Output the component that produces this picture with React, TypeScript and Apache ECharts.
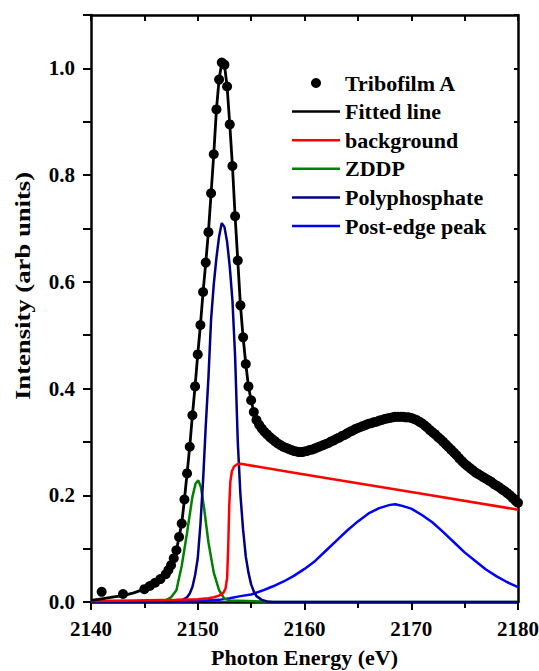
import React, { useEffect, useRef } from "react";
import * as echarts from "echarts";

const FONT = '"Liberation Serif", "Times New Roman", serif';

const seriesNames = ["Tribofilm A", "Fitted line", "background", "ZDDP", "Polyphosphate", "Post-edge peak"];
const seriesColors = ["#000000", "#000000", "#ff0000", "#008000", "#000080", "#0000ff"];

const tribofilmA: [number, number][] = [
  [2141.0, 0.019], [2143.0, 0.015], [2145.0, 0.024], [2145.5, 0.030], [2146.0, 0.036], [2146.5, 0.043],
  [2147.0, 0.052], [2147.25, 0.060], [2147.5, 0.069], [2147.75, 0.082], [2148.0, 0.097], [2148.25, 0.122],
  [2148.5, 0.147], [2148.75, 0.192], [2149.0, 0.241], [2149.25, 0.291], [2149.5, 0.350], [2149.75, 0.404],
  [2150.0, 0.464], [2150.25, 0.519], [2150.5, 0.581], [2150.75, 0.636], [2151.0, 0.693], [2151.25, 0.766],
  [2151.5, 0.839], [2151.75, 0.923], [2152.0, 0.979], [2152.25, 1.011], [2152.5, 1.007], [2152.75, 0.966],
  [2153.0, 0.895], [2153.25, 0.817], [2153.5, 0.723], [2153.75, 0.640], [2154.0, 0.556], [2154.25, 0.496],
  [2154.5, 0.446], [2154.75, 0.404], [2155.0, 0.378], [2155.25, 0.356], [2155.5, 0.341], [2155.75, 0.332],
  [2156.0, 0.325], [2156.25, 0.319], [2156.5, 0.314], [2156.75, 0.309], [2157.0, 0.305], [2157.25, 0.301],
  [2157.5, 0.297], [2157.75, 0.294], [2158.0, 0.291], [2158.25, 0.289], [2158.5, 0.287], [2158.75, 0.285],
  [2159.0, 0.283], [2159.25, 0.282], [2159.5, 0.281], [2159.75, 0.281], [2160.0, 0.282], [2160.25, 0.283],
  [2160.5, 0.285], [2160.75, 0.286], [2161.0, 0.288], [2161.25, 0.290], [2161.5, 0.292], [2161.75, 0.294],
  [2162.0, 0.296], [2162.25, 0.298], [2162.5, 0.301], [2162.75, 0.303], [2163.0, 0.306], [2163.25, 0.308],
  [2163.5, 0.311], [2163.75, 0.313], [2164.0, 0.316], [2164.25, 0.319], [2164.5, 0.321], [2164.75, 0.324],
  [2165.0, 0.326], [2165.25, 0.328], [2165.5, 0.330], [2165.75, 0.332], [2166.0, 0.334], [2166.25, 0.335],
  [2166.5, 0.337], [2166.75, 0.338], [2167.0, 0.340], [2167.25, 0.341], [2167.5, 0.343], [2167.75, 0.344],
  [2168.0, 0.345], [2168.25, 0.346], [2168.5, 0.347], [2168.75, 0.347], [2169.0, 0.347], [2169.25, 0.347],
  [2169.5, 0.346], [2169.75, 0.346], [2170.0, 0.345], [2170.25, 0.343], [2170.5, 0.341], [2170.75, 0.338],
  [2171.0, 0.335], [2171.25, 0.331], [2171.5, 0.327], [2171.75, 0.322], [2172.0, 0.318], [2172.25, 0.314],
  [2172.5, 0.309], [2172.75, 0.305], [2173.0, 0.300], [2173.25, 0.295], [2173.5, 0.290], [2173.75, 0.285],
  [2174.0, 0.280], [2174.25, 0.275], [2174.5, 0.269], [2174.75, 0.264], [2175.0, 0.259], [2175.25, 0.255],
  [2175.5, 0.251], [2175.75, 0.247], [2176.0, 0.243], [2176.25, 0.240], [2176.5, 0.237], [2176.75, 0.234],
  [2177.0, 0.231], [2177.25, 0.228], [2177.5, 0.225], [2177.75, 0.221], [2178.0, 0.218], [2178.25, 0.215],
  [2178.5, 0.211], [2178.75, 0.208], [2179.0, 0.204], [2179.25, 0.200], [2179.5, 0.195], [2179.75, 0.190],
  [2180.0, 0.186],
];

const fittedPreEdge: [number, number][] = [
  [2140, 0.003], [2141, 0.006], [2142, 0.009], [2143, 0.012], [2144, 0.017],
];

const background: [number, number][] = [
  [2140, 0.002], [2144, 0.003], [2148, 0.004], [2150, 0.005], [2151, 0.007], [2151.5, 0.009],
  [2152, 0.012], [2152.4, 0.017], [2152.6, 0.025], [2152.75, 0.045], [2152.85, 0.1], [2152.95, 0.18],
  [2153.05, 0.225], [2153.2, 0.245], [2153.4, 0.254], [2153.7, 0.258], [2154, 0.259], [2160, 0.239],
  [2170, 0.206], [2180, 0.173],
];

const zddp: [number, number][] = [
  [2140, 0], [2146.5, 0.001], [2147.0, 0.003], [2147.5, 0.009], [2148.0, 0.022], [2148.5, 0.068],
  [2149.0, 0.13], [2149.5, 0.197], [2149.8, 0.222], [2150.05, 0.228], [2150.3, 0.215], [2150.6, 0.175],
  [2151.0, 0.112], [2151.5, 0.055], [2152.0, 0.022], [2152.5, 0.006], [2153, 0.003], [2156, 0.001],
  [2157, 0], [2180, 0],
];

const polyphosphate: [number, number][] = [
  [2140, 0], [2147.5, 0], [2148, 0.001], [2148.5, 0.003], [2149, 0.009], [2149.25, 0.016], [2149.5, 0.028],
  [2149.75, 0.05], [2150, 0.082], [2150.25, 0.145], [2150.5, 0.228], [2150.75, 0.33], [2151, 0.42],
  [2151.25, 0.53], [2151.5, 0.595], [2151.75, 0.645], [2152, 0.685], [2152.25, 0.71], [2152.5, 0.703],
  [2152.75, 0.675], [2153, 0.628], [2153.25, 0.565], [2153.5, 0.46], [2153.75, 0.30], [2154, 0.2],
  [2154.25, 0.135], [2154.5, 0.085], [2154.75, 0.055], [2155, 0.033], [2155.25, 0.02], [2155.5, 0.011],
  [2156, 0.004], [2156.5, 0.001], [2157, 0], [2180, 0],
];

const postEdgePeak: [number, number][] = [
  [2140, 0], [2145, 0], [2148, 0.001], [2150, 0.002], [2152, 0.004], [2153, 0.007], [2154, 0.011],
  [2155, 0.014], [2156, 0.021], [2157, 0.029], [2158, 0.038], [2159, 0.049], [2160, 0.062], [2161, 0.077],
  [2162, 0.096], [2163, 0.115], [2164, 0.134], [2165, 0.151], [2166, 0.166], [2167, 0.176], [2168, 0.182],
  [2168.5, 0.183], [2169, 0.181], [2170, 0.175], [2171, 0.163], [2172, 0.149], [2173, 0.131],
  [2174, 0.112], [2175, 0.093], [2176, 0.077], [2177, 0.061], [2178, 0.048], [2179, 0.037], [2180, 0.028],
];

const fittedLine: [number, number][] = fittedPreEdge.concat(tribofilmA.filter((p) => p[0] >= 2145));

const axisLineStyle = { color: "#000", width: 2.5 };
const tickStyle = { color: "#000", width: 2 };
const labelStyle = { color: "#000", fontSize: 21, fontWeight: "bold" as const, fontFamily: FONT };
const LINE_ICON = "path://M0,0L48,0L48,2.5L0,2.5Z";

export default function App() {
  const ref = useRef<HTMLDivElement>(null);
  useEffect(() => {
    if (!ref.current) return;
    const chart = echarts.init(ref.current, null, { renderer: "svg" });
    const lineSeries = (idx: number, data: [number, number][], width: number) => ({
      name: seriesNames[idx],
      type: "line",
      data,
      symbol: "none",
      showSymbol: false,
      smooth: false,
      lineStyle: { color: seriesColors[idx], width },
      itemStyle: { color: seriesColors[idx] },
      z: 2,
    });
    chart.setOption({
      animation: false,
      backgroundColor: "#fff",
      grid: { left: 91, right: 21, top: 15, bottom: 69, containLabel: false, outerBoundsMode: "none" },
      xAxis: [
        {
          type: "value",
          min: 2140,
          max: 2180,
          interval: 10,
          position: "bottom",
          axisLine: { show: true, onZero: false, lineStyle: axisLineStyle },
          axisTick: { show: true, inside: false, length: 8, lineStyle: tickStyle },
          minorTick: { show: true, splitNumber: 2, length: 6, lineStyle: tickStyle },
          axisLabel: { ...labelStyle, margin: 16, formatter: (v: number) => String(v) },
          splitLine: { show: false },
          name: "Photon Energy (eV)",
          nameLocation: "middle",
          nameGap: 44,
          nameTextStyle: { color: "#000", fontSize: 22, fontWeight: "bold", fontFamily: FONT },
        },
        {
          type: "value",
          min: 2140,
          max: 2180,
          interval: 5,
          position: "top",
          axisLine: { show: true, onZero: false, lineStyle: axisLineStyle },
          axisTick: { show: true, inside: true, length: 6, lineStyle: tickStyle },
          axisLabel: { show: false },
          splitLine: { show: false },
        },
      ],
      yAxis: [
        {
          type: "value",
          min: 0,
          max: 1.1,
          interval: 0.2,
          position: "left",
          axisLine: { show: true, onZero: false, lineStyle: axisLineStyle },
          axisTick: { show: true, inside: false, length: 8, lineStyle: tickStyle },
          minorTick: { show: true, splitNumber: 2, length: 8, lineStyle: tickStyle },
          axisLabel: { ...labelStyle, margin: 16, showMaxLabel: false, formatter: (v: number) => v.toFixed(1) },
          splitLine: { show: false },
        },
        {
          type: "value",
          min: 0,
          max: 1.1,
          interval: 0.1,
          position: "right",
          axisLine: { show: true, onZero: false, lineStyle: axisLineStyle },
          axisTick: { show: true, inside: true, length: 4, lineStyle: tickStyle },
          axisLabel: { show: false },
          splitLine: { show: false },
        },
      ],
      legend: {
        orient: "vertical",
        left: 287,
        top: 67,
        itemWidth: 48,
        itemHeight: 10,
        itemGap: 6.6,
        selectedMode: false,
        data: seriesNames.map((name, i) => ({
          name,
          icon: i === 0 ? "circle" : LINE_ICON,
          itemStyle: { color: seriesColors[i], opacity: 1, borderWidth: 0 },
        })),
        textStyle: { color: "#000", fontSize: 22, fontWeight: "bold", fontFamily: FONT, lineHeight: 22 },
      },
      graphic: [
        {
          type: "text",
          x: 23,
          y: 286,
          rotation: Math.PI / 2,
          scaleX: 1.27,
          style: {
            text: "Intensity (arb units)",
            fill: "#000",
            font: `bold 21px ${FONT}`,
            align: "center",
            verticalAlign: "middle",
          },
        },
      ],
      series: [
        lineSeries(5, postEdgePeak, 2.5),
        lineSeries(3, zddp, 2.5),
        lineSeries(4, polyphosphate, 2.5),
        lineSeries(2, background, 2.5),
        lineSeries(1, fittedLine, 2.8),
        {
          name: seriesNames[0],
          type: "scatter",
          data: tribofilmA,
          symbol: "circle",
          symbolSize: 10,
          itemStyle: { color: "#000", opacity: 1 },
          z: 3,
        },
      ],
    });
    return () => chart.dispose();
  }, []);
  return <div ref={ref} style={{ position: "fixed", left: 0, top: 0, width: 539, height: 671 }} />;
}
